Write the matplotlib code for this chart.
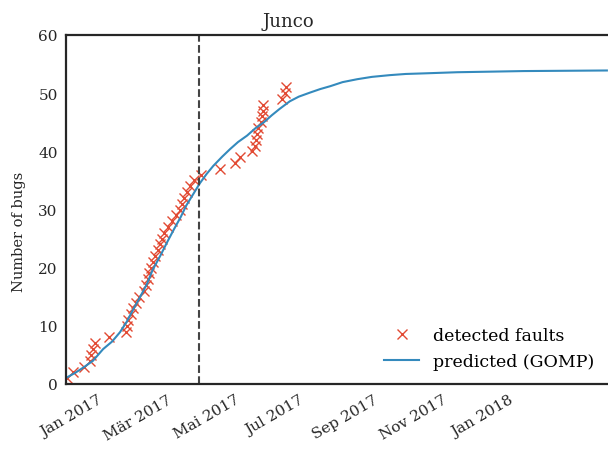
import datetime as dt
import matplotlib
matplotlib.use("Agg")
import matplotlib.pyplot as plt
import matplotlib.dates as mdates
from matplotlib.ticker import FuncFormatter

plt.rcParams['font.family'] = ['DejaVu Serif']

# cumulative detected faults: date of each bug (count 1..51)
bug_dates = ['2016-12-28', '2017-01-02', '2017-01-12', '2017-01-17', '2017-01-18',
             '2017-01-20', '2017-01-22', '2017-02-03', '2017-02-18', '2017-02-19',
             '2017-02-20', '2017-02-23', '2017-02-25', '2017-02-27', '2017-03-02',
             '2017-03-06', '2017-03-08', '2017-03-10', '2017-03-11', '2017-03-13',
             '2017-03-14', '2017-03-16', '2017-03-19', '2017-03-21', '2017-03-22',
             '2017-03-24', '2017-03-28', '2017-03-31', '2017-04-04', '2017-04-07',
             '2017-04-09', '2017-04-11', '2017-04-14', '2017-04-16', '2017-04-20',
             '2017-04-26', '2017-05-13', '2017-05-26', '2017-05-31', '2017-06-10',
             '2017-06-13', '2017-06-14', '2017-06-15', '2017-06-16', '2017-06-18',
             '2017-06-19', '2017-06-20', '2017-06-20', '2017-07-07', '2017-07-10',
             '2017-07-11']
bug_counts = list(range(1, len(bug_dates) + 1))

# GOMP prediction
pred_dates = ['2016-12-28', '2017-01-04', '2017-01-12', '2017-01-20', '2017-01-29',
              '2017-02-06', '2017-02-13', '2017-02-19', '2017-02-25', '2017-03-03',
              '2017-03-09', '2017-03-14', '2017-03-21', '2017-03-27', '2017-04-02',
              '2017-04-08', '2017-04-13', '2017-04-19', '2017-04-25', '2017-05-01',
              '2017-05-07', '2017-05-15', '2017-05-22', '2017-05-29', '2017-06-06',
              '2017-06-13', '2017-06-21', '2017-06-28', '2017-07-05', '2017-07-14',
              '2017-07-22', '2017-08-01', '2017-08-10', '2017-08-19', '2017-08-30',
              '2017-09-12', '2017-09-25', '2017-10-11', '2017-10-25', '2017-11-10',
              '2017-12-10', '2018-01-09', '2018-02-07', '2018-04-22']
pred_values = [1.15, 1.9, 2.9, 4.0, 6.0, 7.3, 8.9, 10.7, 12.9, 15.0,
               17.2, 19.6, 22.1, 24.4, 26.6, 28.7, 30.7, 32.6, 34.5, 36.1,
               37.5, 39.1, 40.4, 41.6, 42.7, 43.9, 45.0, 46.2, 47.3, 48.6,
               49.4, 50.1, 50.7, 51.2, 51.9, 52.4, 52.8, 53.1, 53.3, 53.4,
               53.6, 53.7, 53.8, 53.9]

cutoff = '2017-04-24'
tick_dates = ['2017-01-01', '2017-03-01', '2017-05-01', '2017-07-01',
              '2017-09-01', '2017-11-01', '2018-01-01']
months_de = ['Jan', 'Feb', 'Mär', 'Apr', 'Mai', 'Jun', 'Jul', 'Aug', 'Sep', 'Okt', 'Nov', 'Dez']

to_dt = lambda s: dt.datetime.strptime(s, '%Y-%m-%d')
bx = [to_dt(s) for s in bug_dates]
px = [to_dt(s) for s in pred_dates]

fig = plt.figure(figsize=(6.08, 4.52), dpi=100)
ax = fig.add_axes([66 / 608, 67 / 452, (608 - 66) / 608, (385 - 36) / 452])

ax.plot(bx, bug_counts, 'x', color='#E24A33', markersize=7.5, mew=1.0, label='detected faults')
ax.plot(px, pred_values, '-', color='#348ABD', lw=1.5, label='predicted (GOMP)')
ax.axvline(to_dt(cutoff), color='#444444', ls='--', lw=1.5)

ax.set_xlim(to_dt('2016-12-27'), to_dt('2018-04-23'))
ax.set_ylim(0, 60)
ax.set_yticks(range(0, 61, 10))
ax.set_xticks([to_dt(s) for s in tick_dates])
ax.xaxis.set_major_formatter(FuncFormatter(
    lambda v, pos: '%s %d' % (months_de[mdates.num2date(v).month - 1], mdates.num2date(v).year)))
plt.setp(ax.get_xticklabels(), rotation=30, ha='center')
ax.tick_params(length=0, labelsize=11, colors='#262626', pad=6)

for s in ax.spines.values():
    s.set_color('#262626')
    s.set_linewidth(1.6)
ax.spines['right'].set_visible(False)

ax.set_ylabel('Number of bugs', fontsize=10.5, color='#262626')
ax.yaxis.set_label_coords(-0.073, 0.438)
ax.set_title('Junco', fontsize=13, color='#262626', x=0.411, pad=6.5)
ax.legend(loc='lower right', frameon=False, fontsize=12.5, borderaxespad=0.4)

fig.savefig('out.png', dpi=100)
